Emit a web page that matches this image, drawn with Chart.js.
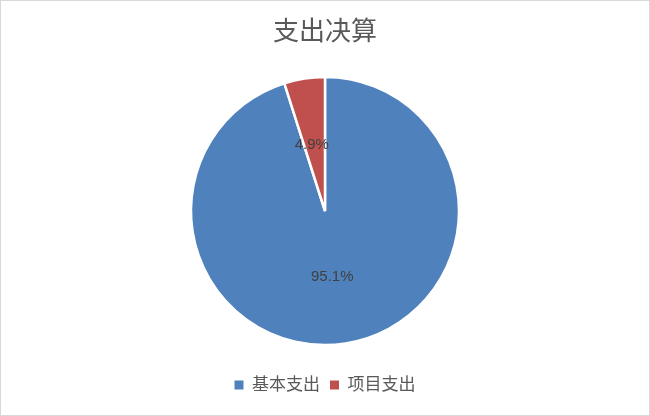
<!DOCTYPE html>
<html>
<head>
<meta charset="utf-8">
<script src="https://cdn.jsdelivr.net/npm/chart.js@4/dist/chart.umd.min.js"></script>
<style>
  body { margin: 0; background: #fff; }
  #wrap { width: 650px; height: 416px; box-sizing: border-box; border: 1px solid #d9d9d9; }
  canvas { display: block; }
</style>
</head>
<body>
<div id="wrap"><canvas id="myChart" width="648" height="414"></canvas></div>
<script>
const categories = ['基本支出', '项目支出'];
const values = [95.1, 4.9];
const colors = ['#4F81BD', '#C0504D'];

const fontFamily = '"Liberation Sans", "Noto Sans CJK SC", sans-serif';

// percentage labels inside each slice
const sliceLabels = {
    id: 'sliceLabels',
    afterDatasetsDraw(chart) {
        const c = chart.ctx;
        const meta = chart.getDatasetMeta(0);
        c.save();
        c.font = '15px ' + fontFamily;
        c.fillStyle = '#404040';
        c.textAlign = 'center';
        c.textBaseline = 'middle';
        meta.data.forEach((arc, i) => {
            const p = arc.tooltipPosition();
            c.fillText(values[i].toFixed(1) + '%', p.x - 3, p.y);
        });
        c.restore();
    }
};

const ctx = document.getElementById('myChart').getContext('2d');
const myChart = new Chart(ctx, {
    type: 'pie',
    data: {
        labels: categories,
        datasets: [{
            data: values,
            backgroundColor: colors,
            borderColor: '#ffffff',
            borderWidth: 2.5,
            radius: 134
        }]
    },
    options: {
        responsive: false,
        animation: false,
        layout: { padding: { bottom: 11.5 } },
        plugins: {
            title: {
                display: true,
                text: '支出决算',
                color: '#595959',
                font: { family: fontFamily, size: 26, weight: 'normal' },
                padding: { top: 16, bottom: 7.3 }
            },
            legend: {
                position: 'bottom',
                labels: {
                    color: '#595959',
                    font: { family: fontFamily, size: 17 },
                    boxWidth: 9,
                    boxHeight: 9,
                    padding: 10,
                    generateLabels(chart) {
                        const items = Chart.overrides.pie.plugins.legend.labels.generateLabels(chart);
                        items.forEach(it => { it.lineWidth = 0; it.strokeStyle = it.fillStyle; });
                        return items;
                    }
                }
            },
            tooltip: { enabled: false }
        }
    },
    plugins: [sliceLabels]
});
</script>
</body>
</html>
